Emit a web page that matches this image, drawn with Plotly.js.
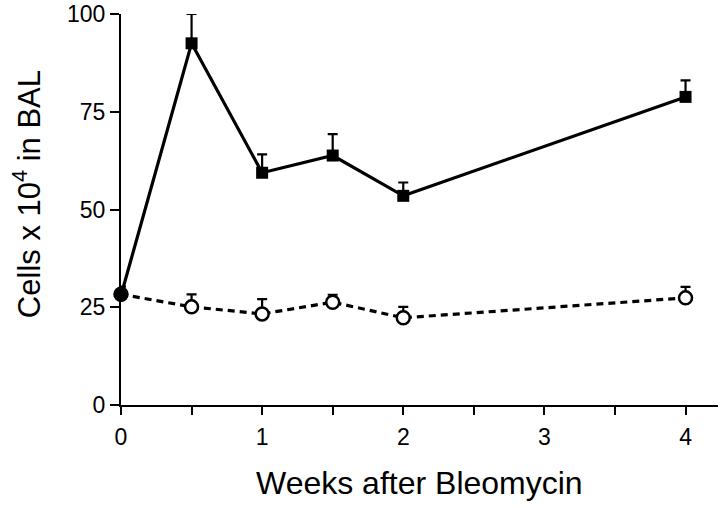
<!DOCTYPE html>
<html>
<head>
<meta charset="utf-8">
<script src="https://cdn.plot.ly/plotly-3.0.1.min.js"></script>
<style>html,body{margin:0;padding:0;background:#fff;}#chart{width:720px;height:508px;}</style>
</head>
<body>
<div id="chart"></div>
<script>
// Weeks after bleomycin
const weeks = [0, 0.5, 1, 1.5, 2, 4];
// Bleomycin-treated (filled squares)
const bleoMean = [28, 92.5, 59.4, 63.8, 53.5, 78.8];
const bleoErr  = [0, 7.5, 4.7, 5.5, 3.4, 4.2];
// Control (open circles)
const ctrlMean = [28.3, 25.1, 23.3, 26.3, 22.3, 27.4];
const ctrlErr  = [2.0, 3.2, 3.8, 1.9, 2.8, 2.8];
const xTitle = 'Weeks after Bleomycin';
const yTitle = 'Cells x 10<sup>4</sup> in BAL';

const zeros = weeks.map(() => 0);
const font = 'Liberation Sans, Arial, Helvetica, sans-serif';

const traces = [
  {
    x: weeks, y: bleoMean, type: 'scatter', mode: 'lines+markers',
    cliponaxis: false,
    line: {color: '#000', width: 3.2},
    marker: {symbol: weeks.map((w, i) => i === 0 ? 'circle' : 'square'), size: 12, color: '#000'},
    error_y: {type: 'data', symmetric: false, array: bleoErr, arrayminus: zeros, color: '#000', thickness: 2.2, width: 5},
    showlegend: false
  },
  {
    x: weeks, y: ctrlMean, type: 'scatter', mode: 'lines+markers',
    cliponaxis: false,
    line: {color: '#000', width: 3.2, dash: '7px,5px'},
    marker: {symbol: 'circle', size: 13, color: weeks.map((w, i) => i === 0 ? '#000' : '#fff'), line: {color: '#000', width: 2.5}},
    error_y: {type: 'data', symmetric: false, array: ctrlErr, arrayminus: zeros, color: '#000', thickness: 2.2, width: 5},
    showlegend: false
  }
];

const layout = {
  width: 720, height: 508,
  margin: {l: 121, r: 2, t: 14, b: 103},
  paper_bgcolor: '#fff', plot_bgcolor: '#fff',
  font: {family: font, color: '#000'},
  xaxis: {
    range: [0, 4.23], showgrid: false, zeroline: false,
    showline: true, linecolor: '#000', linewidth: 2,
    ticks: 'outside', ticklen: 8, tickwidth: 2, tickcolor: '#000',
    tick0: 0, dtick: 1, ticklabelstandoff: 2,
    minor: {dtick: 0.5, ticks: 'outside', ticklen: 8, tickwidth: 2, tickcolor: '#000', showgrid: false},
    tickfont: {size: 23, family: font, color: '#000'}
  },
  yaxis: {
    range: [0, 100], showgrid: false, zeroline: false,
    showline: true, linecolor: '#000', linewidth: 2,
    ticks: 'outside', ticklen: 9, tickwidth: 2, tickcolor: '#000',
    tick0: 0, dtick: 25,
    tickfont: {size: 23, family: font, color: '#000'}
  },
  annotations: [
    {text: xTitle, xref: 'paper', yref: 'paper', x: 0.5, y: -0.2, xanchor: 'center', yanchor: 'middle',
     showarrow: false, font: {size: 32, family: font, color: '#000'}},
    {text: yTitle, xref: 'paper', yref: 'paper', x: -0.157, y: 0.54, xanchor: 'center', yanchor: 'middle',
     textangle: -90, showarrow: false, font: {size: 31, family: font, color: '#000'}}
  ]
};

Plotly.newPlot('chart', traces, layout, {displayModeBar: false, staticPlot: true});
</script>
</body>
</html>
